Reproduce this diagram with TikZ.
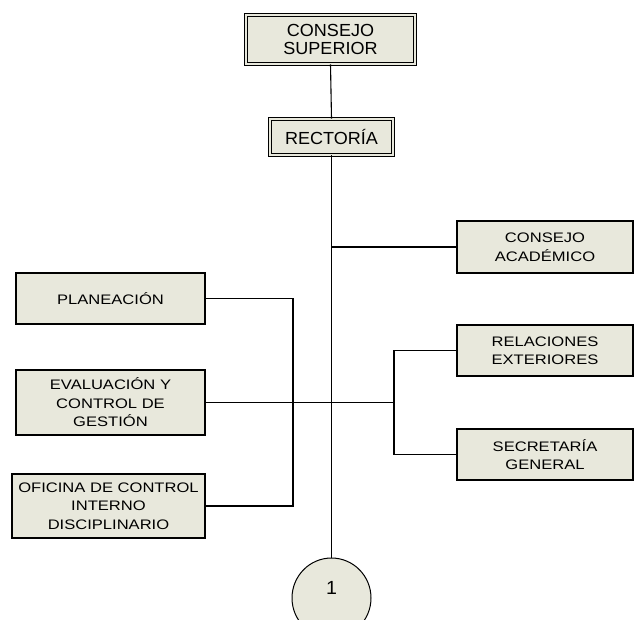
\documentclass[tikz,border=0pt]{standalone}
\usepackage{fontspec}
\setmainfont{Liberation Sans}
\newfontfamily\unitfont[FakeStretch=1.2]{Liberation Sans}
\newfontfamily\headfont[FakeStretch=1.03]{Liberation Sans}
\usetikzlibrary{shapes.geometric}
\definecolor{boxfill}{HTML}{E8E8DC}
\tikzset{
  unit/.style={draw=black, line width=1.1pt, fill=boxfill, align=center, inner sep=0pt,
    font=\unitfont\fontsize{13.8}{18.5}\selectfont},
  headbox/.style={draw=black, line width=0.9pt, double=boxfill, double distance=2.2pt,
    fill=boxfill, align=center, inner sep=0pt,
    font=\headfont\fontsize{17.5}{18}\selectfont},
  link/.style={draw=black, line width=1.1pt},
}
\begin{document}
\begin{tikzpicture}[x=1pt, y=-1pt]
\useasboundingbox (0,0) rectangle (634,619);
\clip (0,0) rectangle (634,619);

% governing bodies
\node[headbox, minimum width=169, minimum height=49] (cs) at (330.5,39.5) {CONSEJO\\SUPERIOR};
\node[headbox, minimum width=123, minimum height=36] (rec) at (331.5,137) {RECTOR\'IA};

% units on the right
\node[unit, minimum width=176, minimum height=52] (ca) at (545,247) {CONSEJO\\ACAD\'EMICO};
\node[unit, minimum width=176, minimum height=51] (re) at (545,350.5) {RELACIONES\\EXTERIORES};
\node[unit, minimum width=176, minimum height=51] (sg) at (545,454.5) {SECRETAR\'IA\\GENERAL};

% units on the left
\node[unit, minimum width=189, minimum height=51] (pl) at (110.5,298.5) {PLANEACI\'ON};
\node[unit, minimum width=189, minimum height=65] (ev) at (110.5,402.5) {EVALUACI\'ON Y\\CONTROL DE\\GESTI\'ON};
\node[unit, minimum width=193, minimum height=64] (of) at (108.5,506) {OFICINA DE CONTROL\\INTERNO\\DISCIPLINARIO};

% continuation marker
\node[ellipse, draw=black, line width=1pt, fill=boxfill, minimum width=79, minimum height=80, inner sep=0pt] (one) at (331.5,598) {};
\node[font=\headfont\fontsize{19}{19}\selectfont] (onetxt) at (331.5,588) {1};

% junction points
\coordinate (jl) at (293,402.5);
\coordinate (jr) at (394,402.5);

% main trunk
\draw[link] (cs.south) -- (rec.north);
\draw[link] (rec.south) -- (one.north);
\draw[link] (rec.south |- ca.west) -- (ca.west);

% left branch
\draw[link] (pl.east) -| (jl) |- (of.east);
\draw[link] (ev.east) -- (jr);

% right branch
\draw[link] (re.west) -| (jr) |- (sg.west);
\end{tikzpicture}
\end{document}
